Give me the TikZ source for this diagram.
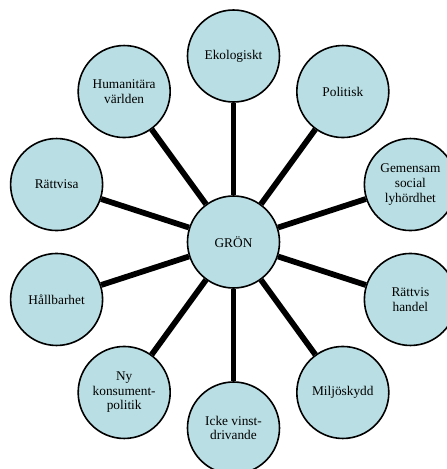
\documentclass[tikz,border=0pt]{standalone}
\usepackage{fontspec}
\setmainfont{Liberation Serif}
\usepackage{xcolor}
\usetikzlibrary{positioning}
\definecolor{ringfill}{RGB}{185,223,228}

\begin{document}
\begin{tikzpicture}[
        x=0.75pt, y=0.75pt,
        every node/.style={
            font=\fontsize{10pt}{10.9pt}\selectfont,
            align=center
        },
        ring/.style={
            circle,
            draw,
            line width=1.2pt,
            fill=ringfill,
            minimum size=69pt,
            inner sep=0pt
        },
        spoke/.style={
            line width=4.3pt
        }
    ]

    \useasboundingbox (-233.5,242) rectangle (213.5,-227);
    \clip (-233.5,242) rectangle (213.5,-227);

    \node[ring] (gron) at (0,0) {GRÖN};

    \node[ring] (ekologiskt) at (90:186) {Ekologiskt};
    \node[ring] (politisk) at (54:186) {Politisk};
    \node[ring] (gemensam) at (18:186) {Gemensam\\social\\lyhördhet};
    \node[ring] (handel) at (-18:186) {Rättvis\\handel};
    \node[ring] (miljo) at (-54:186) {Miljöskydd};
    \node[ring] (vinst) at (-90:186) {Icke vinst-\\drivande};
    \node[ring] (konsument) at (-126:186) {Ny\\konsument-\\politik};
    \node[ring] (hallbarhet) at (-162:186) {Hållbarhet};
    \node[ring] (rattvisa) at (162:186) {Rättvisa};
    \node[ring] (humanitara) at (126:186) {Humanitära\\världen};

    \draw[spoke] (gron) -- (ekologiskt);
    \draw[spoke] (gron) -- (politisk);
    \draw[spoke] (gron) -- (gemensam);
    \draw[spoke] (gron) -- (handel);
    \draw[spoke] (gron) -- (miljo);
    \draw[spoke] (gron) -- (vinst);
    \draw[spoke] (gron) -- (konsument);
    \draw[spoke] (gron) -- (hallbarhet);
    \draw[spoke] (gron) -- (rattvisa);
    \draw[spoke] (gron) -- (humanitara);

    \end{tikzpicture}
\end{document}
